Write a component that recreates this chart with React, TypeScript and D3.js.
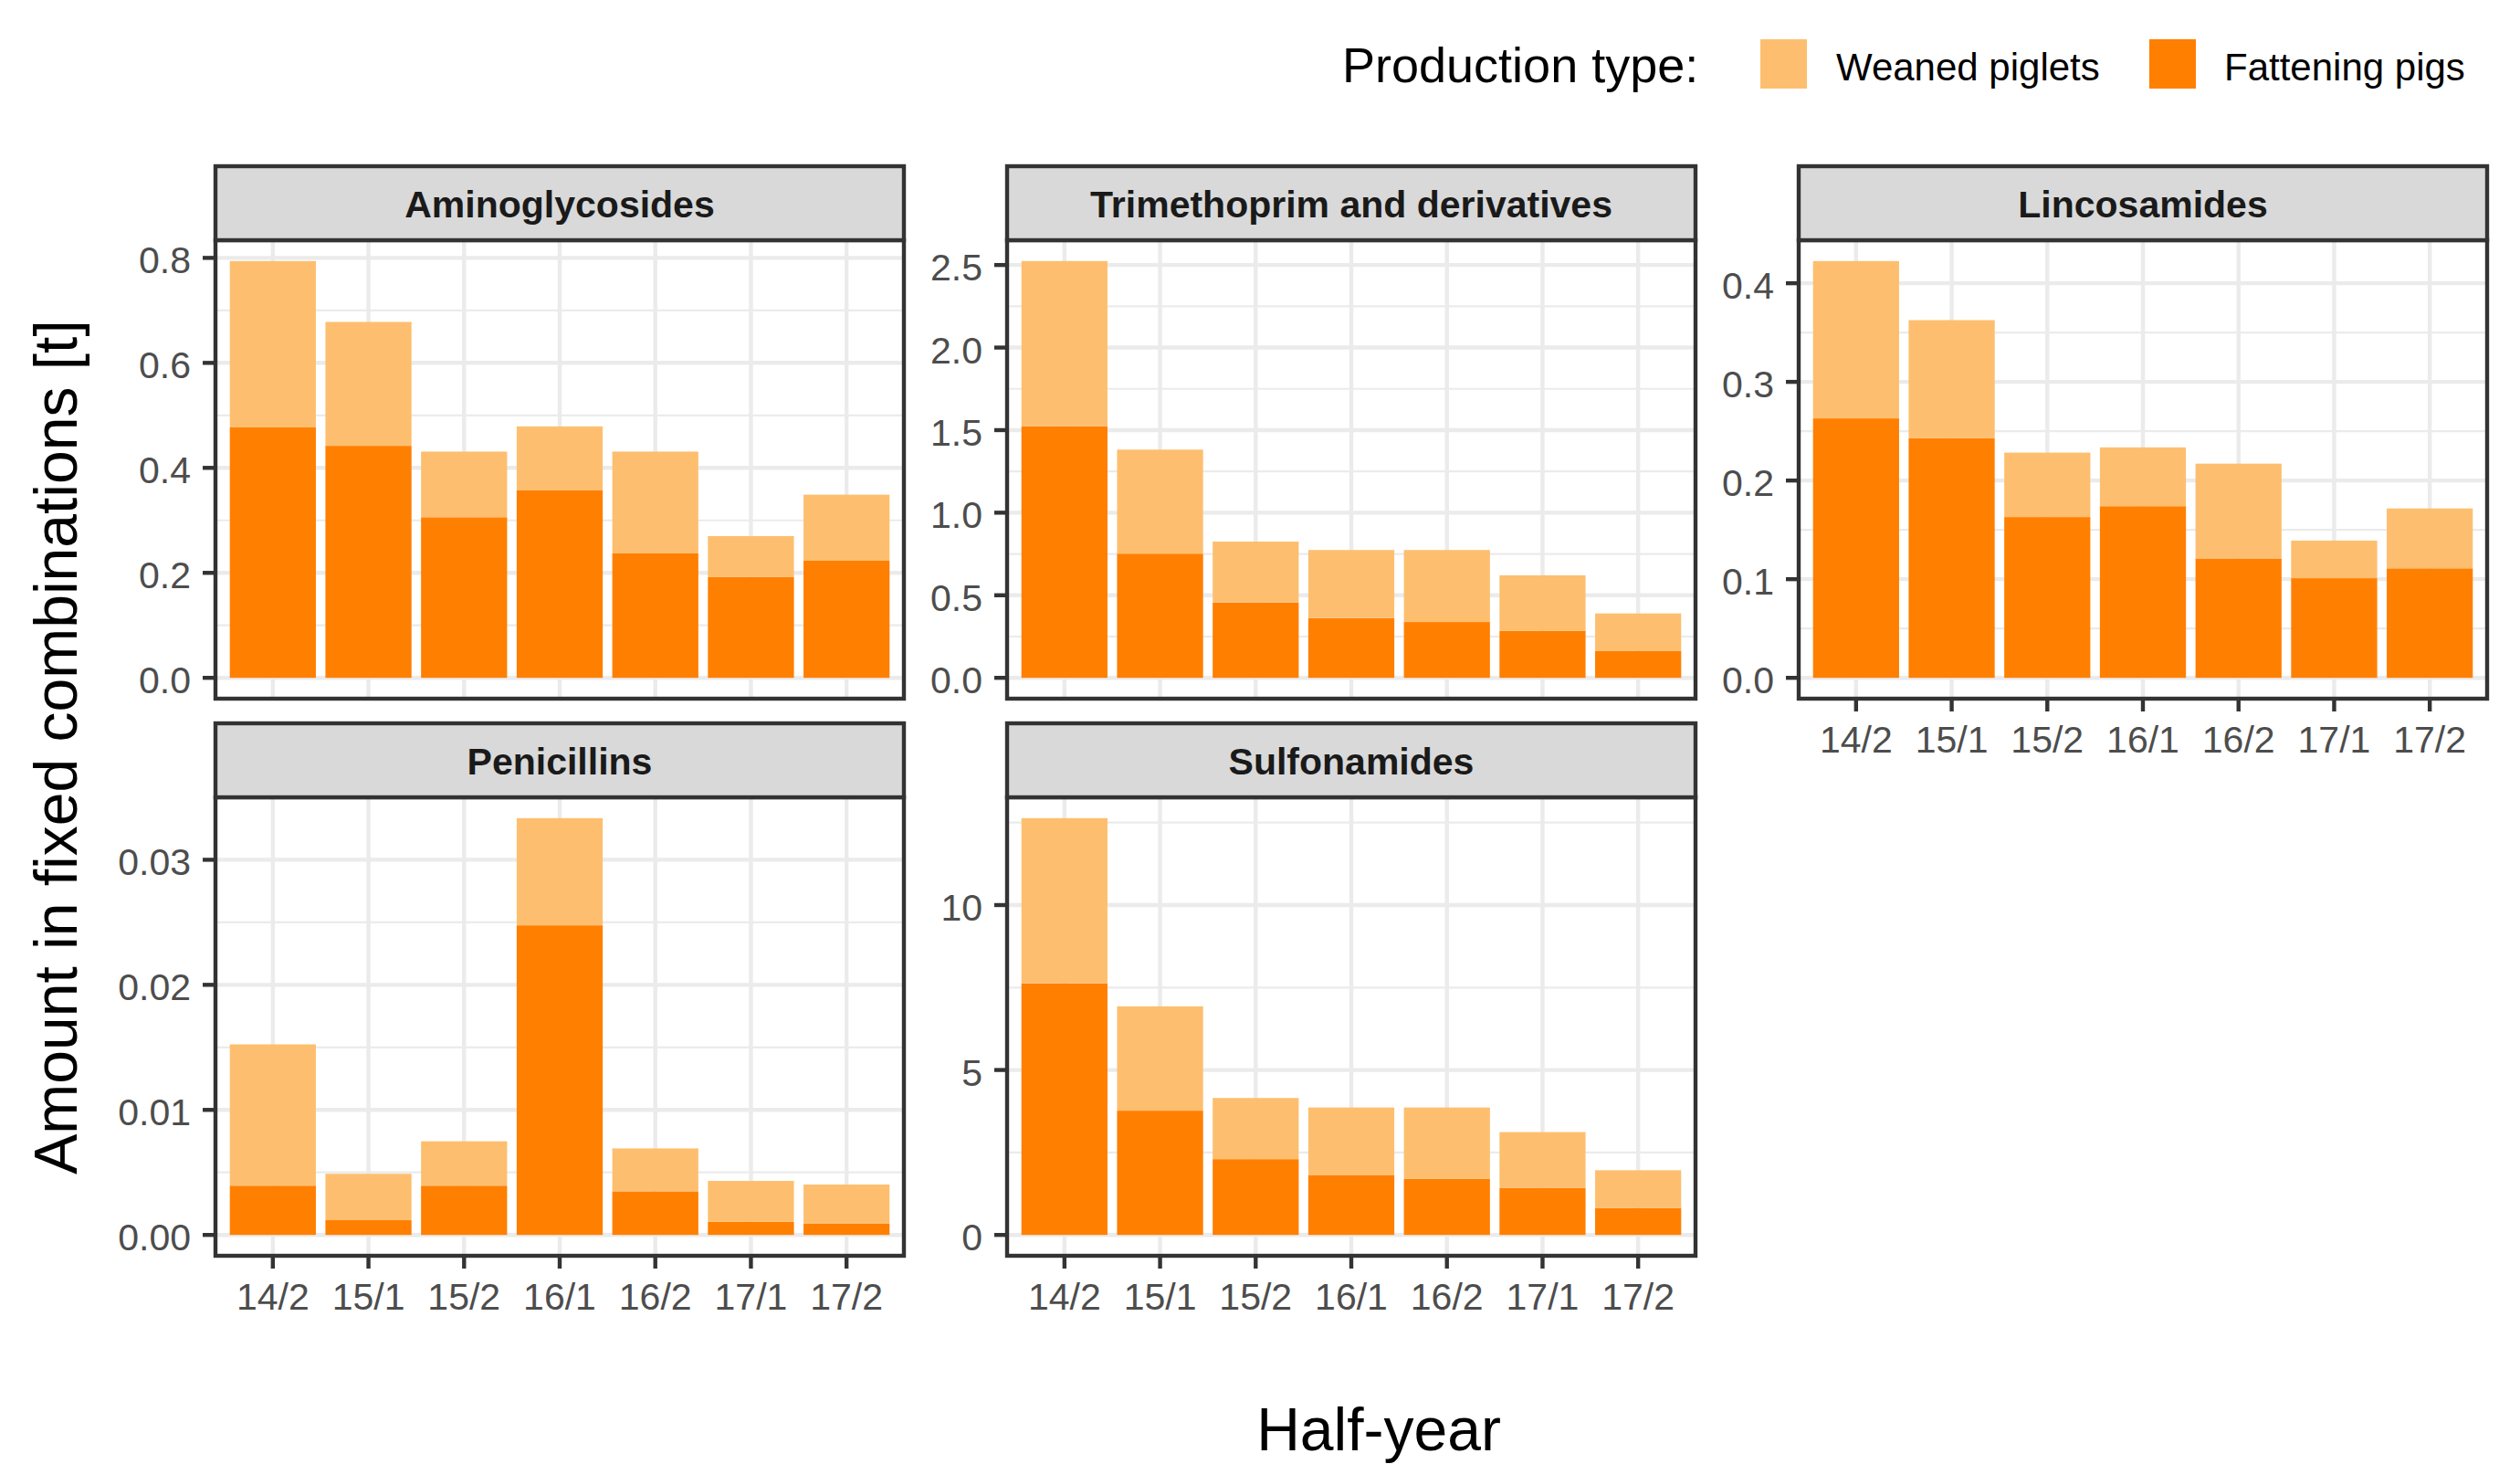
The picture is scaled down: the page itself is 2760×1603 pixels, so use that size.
import React from "react";
import * as d3 from "d3";

// ---------- data ----------
const halfYears = ["14/2", "15/1", "15/2", "16/1", "16/2", "17/1", "17/2"];
const productionTypes = ["Weaned piglets", "Fattening pigs"];
const typeColors = ["#FDBF6F", "#FF7F00"];

const classNames = [
  "Aminoglycosides",
  "Trimethoprim and derivatives",
  "Lincosamides",
  "Penicillins",
  "Sulfonamides",
];

const aminoFattening = [0.477, 0.442, 0.306, 0.357, 0.237, 0.192, 0.223];
const aminoWeaned = [0.317, 0.236, 0.125, 0.122, 0.194, 0.078, 0.126];

const trimFattening = [1.524, 0.752, 0.456, 0.362, 0.338, 0.285, 0.164];
const trimWeaned = [1.0, 0.63, 0.369, 0.412, 0.436, 0.336, 0.226];

const lincoFattening = [0.263, 0.243, 0.163, 0.174, 0.121, 0.101, 0.111];
const lincoWeaned = [0.1595, 0.1196, 0.0653, 0.0596, 0.0961, 0.0381, 0.0607];

const penFattening = [0.00394, 0.00118, 0.00394, 0.02476, 0.00349, 0.00105, 0.00089];
const penWeaned = [0.0113, 0.00371, 0.00355, 0.00857, 0.00343, 0.00327, 0.00314];

const sulfFattening = [7.629, 3.767, 2.298, 1.805, 1.697, 1.42, 0.818];
const sulfWeaned = [5.006, 3.164, 1.854, 2.058, 2.166, 1.697, 1.143];

const aminoTicks = [0, 0.2, 0.4, 0.6, 0.8];
const trimTicks = [0, 0.5, 1.0, 1.5, 2.0, 2.5];
const lincoTicks = [0, 0.1, 0.2, 0.3, 0.4];
const penTicks = [0, 0.01, 0.02, 0.03];
const sulfTicks = [0, 5, 10];

const tickFormats = [".1f", ".1f", ".1f", ".2f", "d"];

const legendTitle = "Production type:";
const xTitle = "Half-year";
const yTitle = "Amount in fixed combinations [t]";

// ---------- layout ----------
const W = 2760;
const H = 1603;
const colLeft = [236, 1103, 1970];
const panelW = 754;
const stripTop = [182, 792];
const stripH = 81;
const panelH = 502;
const gridPos = [
  [0, 0],
  [1, 0],
  [2, 0],
  [0, 1],
  [1, 1],
];
const showXAxis = [false, false, true, true, true];

const FONT = "'Liberation Sans', Arial, Helvetica, sans-serif";
const GREY20 = "#333333";
const GRID = "#EBEBEB";
const LW = 4.4;

const panelData = [
  { f: aminoFattening, w: aminoWeaned, ticks: aminoTicks },
  { f: trimFattening, w: trimWeaned, ticks: trimTicks },
  { f: lincoFattening, w: lincoWeaned, ticks: lincoTicks },
  { f: penFattening, w: penWeaned, ticks: penTicks },
  { f: sulfFattening, w: sulfWeaned, ticks: sulfTicks },
];

function Panel({ idx }: { idx: number }) {
  const pd = panelData[idx];
  const [c, r] = gridPos[idx];
  const x0 = colLeft[c];
  const sTop = stripTop[r];
  const y0 = sTop + stripH;
  const rows = halfYears.map((h, i) => ({ half: h, fattening: pd.f[i], weaned: pd.w[i] }));
  const maxTotal = d3.max(rows, (d) => d.fattening + d.weaned) as number;
  const y = d3
    .scaleLinear()
    .domain([-0.05 * maxTotal, 1.05 * maxTotal])
    .range([y0 + panelH, y0]);
  const x = d3
    .scaleBand()
    .domain(halfYears)
    .range([x0, x0 + panelW])
    .paddingInner(0.1)
    .paddingOuter(0.15);
  const stacked = d3.stack<any>().keys(["fattening", "weaned"])(rows);
  const colorFor: Record<string, string> = { fattening: typeColors[1], weaned: typeColors[0] };
  const fmt = d3.format(tickFormats[idx]);
  const ticks = pd.ticks;
  const step = ticks[1] - ticks[0];
  const [dmin, dmax] = y.domain();
  const minor: number[] = [];
  for (let i = -1; i < ticks.length; i++) {
    const v = ticks[0] + (i + 0.5) * step;
    if (v > dmin + 1e-9 && v < dmax - 1e-9) minor.push(v);
  }
  const bw = x.bandwidth();
  return (
    <g>
      <rect x={x0} y={y0} width={panelW} height={panelH} fill="#FFFFFF" />
      {minor.map((v) => (
        <line key={"mi" + v} x1={x0} x2={x0 + panelW} y1={y(v)} y2={y(v)} stroke={GRID} strokeWidth={LW / 2} />
      ))}
      {ticks.map((v) => (
        <line key={"ma" + v} x1={x0} x2={x0 + panelW} y1={y(v)} y2={y(v)} stroke={GRID} strokeWidth={LW} />
      ))}
      {halfYears.map((h) => (
        <line
          key={"vx" + h}
          x1={(x(h) as number) + bw / 2}
          x2={(x(h) as number) + bw / 2}
          y1={y0}
          y2={y0 + panelH}
          stroke={GRID}
          strokeWidth={LW}
        />
      ))}
      {stacked.map((series) => (
        <g key={series.key} fill={colorFor[series.key]}>
          {series.map((d, i) => (
            <rect
              key={i}
              x={x(halfYears[i]) as number}
              width={bw}
              y={y(d[1])}
              height={y(d[0]) - y(d[1])}
            />
          ))}
        </g>
      ))}
      <rect x={x0} y={y0} width={panelW} height={panelH} fill="none" stroke={GREY20} strokeWidth={LW} />
      {/* strip */}
      <rect x={x0} y={sTop} width={panelW} height={stripH} fill="#D9D9D9" stroke={GREY20} strokeWidth={LW} />
      <text
        x={x0 + panelW / 2}
        y={sTop + stripH / 2 + 15}
        textAnchor="middle"
        fontFamily={FONT}
        fontWeight="bold"
        fontSize={41}
        fill="#1A1A1A"
      >
        {classNames[idx]}
      </text>
      {/* y axis */}
      {ticks.map((v) => (
        <g key={"yt" + v}>
          <line x1={x0 - 14} x2={x0} y1={y(v)} y2={y(v)} stroke={GREY20} strokeWidth={LW} />
          <text
            x={x0 - 27}
            y={y(v) + 17}
            textAnchor="end"
            fontFamily={FONT}
            fontSize={41}
            fill="#4D4D4D"
          >
            {fmt(v)}
          </text>
        </g>
      ))}
      {showXAxis[idx] &&
        halfYears.map((h) => {
          const cx = (x(h) as number) + bw / 2;
          return (
            <g key={"xt" + h}>
              <line x1={cx} x2={cx} y1={y0 + panelH} y2={y0 + panelH + 14} stroke={GREY20} strokeWidth={LW} />
              <text
                x={cx}
                y={y0 + panelH + 59}
                textAnchor="middle"
                fontFamily={FONT}
                fontSize={41}
                fill="#4D4D4D"
              >
                {h}
              </text>
            </g>
          );
        })}
    </g>
  );
}

export default function App() {
  const legendItems = [
    { label: productionTypes[0], color: typeColors[0], keyX: 1928, textX: 2011 },
    { label: productionTypes[1], color: typeColors[1], keyX: 2354, textX: 2436 },
  ];
  return (
    <svg
      width={W}
      height={H}
      viewBox={`0 0 ${W} ${H}`}
      style={{ position: "absolute", left: 0, top: 0, background: "#FFFFFF" }}
    >
      <rect x={0} y={0} width={W} height={H} fill="#FFFFFF" />
      {/* legend */}
      <text x={1470} y={90} fontFamily={FONT} fontSize={54} fill="#000000">
        {legendTitle}
      </text>
      {legendItems.map((it) => (
        <g key={it.label}>
          <rect x={it.keyX} y={43} width={51} height={54} fill={it.color} />
          <text x={it.textX} y={88} fontFamily={FONT} fontSize={42} fill="#000000">
            {it.label}
          </text>
        </g>
      ))}
      {classNames.map((_, i) => (
        <Panel key={i} idx={i} />
      ))}
      {/* axis titles */}
      <text x={1510} y={1588} textAnchor="middle" fontFamily={FONT} fontSize={66} fill="#000000">
        {xTitle}
      </text>
      <text
        transform={`translate(84, 818) rotate(-90)`}
        textAnchor="middle"
        fontFamily={FONT}
        fontSize={66}
        fill="#000000"
      >
        {yTitle}
      </text>
    </svg>
  );
}
